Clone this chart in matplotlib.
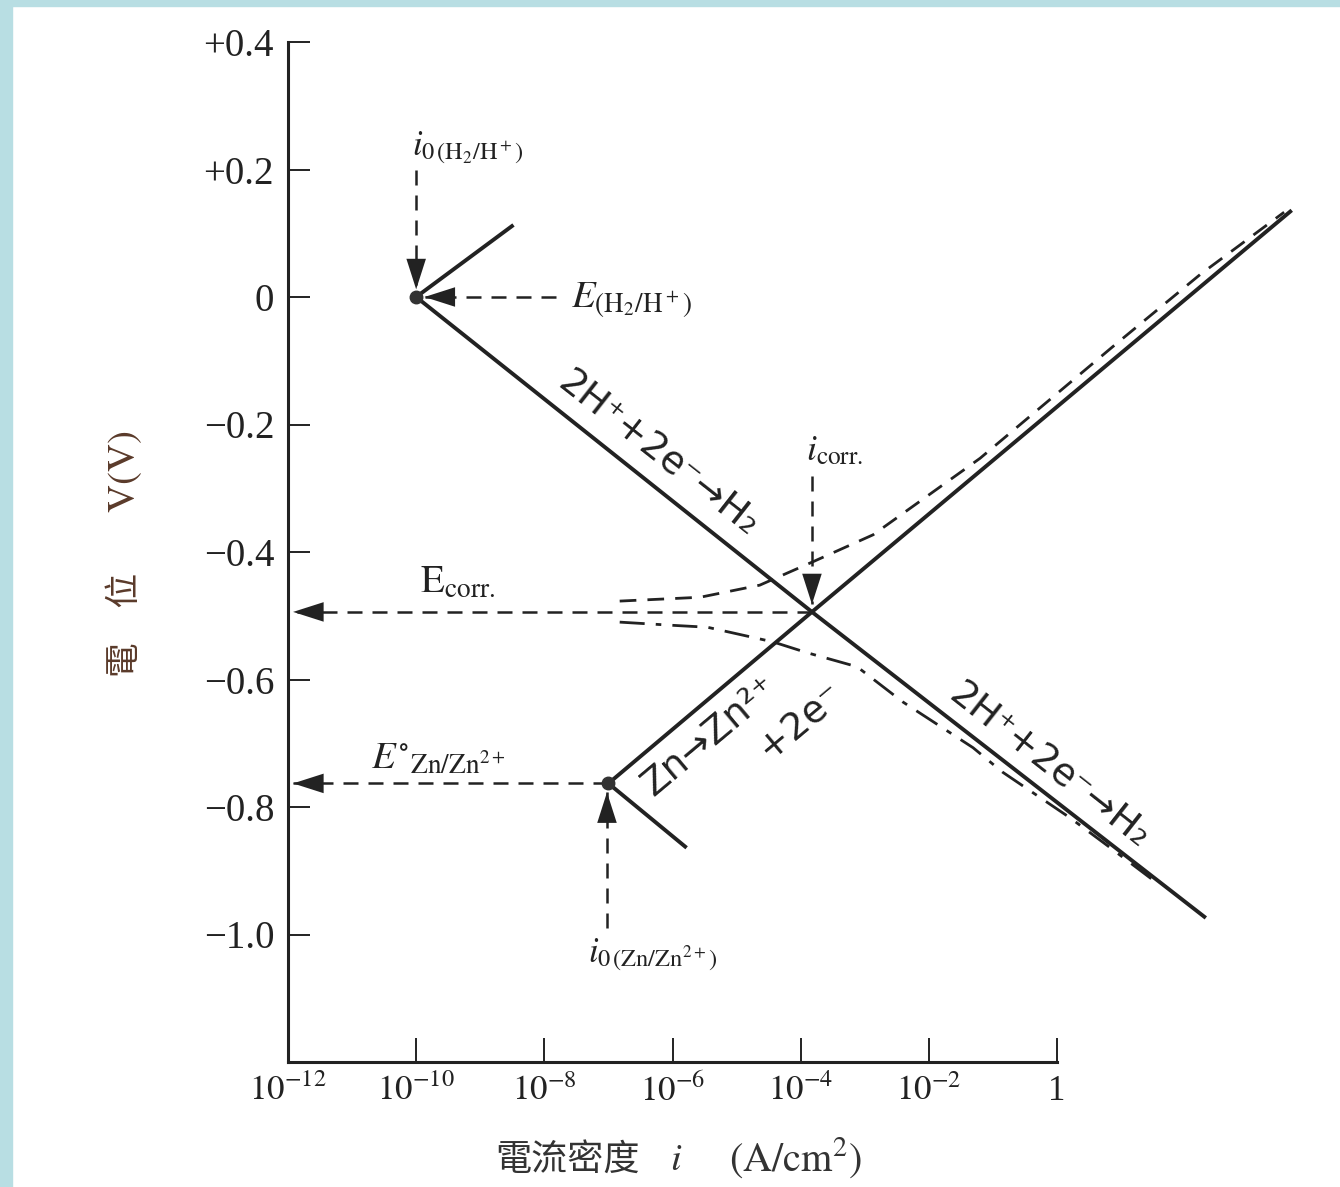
import math
import matplotlib
matplotlib.use("Agg")
import matplotlib.pyplot as plt
from matplotlib.patches import Rectangle

plt.rcParams['mathtext.fontset'] = 'stix'
plt.rcParams['font.family'] = ['Liberation Serif', 'DejaVu Serif']

INK = '#222222'

# ---- axis ticks ----
x_ticks = [1e-12, 1e-10, 1e-8, 1e-6, 1e-4, 1e-2, 1.0]
x_tick_labels = [r"$10^{-12}$", r"$10^{-10}$", r"$10^{-8}$", r"$10^{-6}$",
                 r"$10^{-4}$", r"$10^{-2}$", "1"]
y_ticks = [0.4, 0.2, 0.0, -0.2, -0.4, -0.6, -0.8, -1.0]
y_tick_labels = ["+0.4", "+0.2", "0", "\u22120.2", "\u22120.4", "\u22120.6",
                 "\u22120.8", "\u22121.0"]

# ---- exchange and corrosion points ----
i0_h2, E_h2 = 1e-10, 0.0
i0_zn, E_zn = 1e-7, -0.763
i_corr, E_corr = 1.5e-4, -0.494

# ---- Tafel lines (current density A/cm2, potential V) ----
h2_cath_i = [1e-10, 1.5e-4, 2.1e2]
h2_cath_E = [0.0, -0.494, -0.974]
h2_anod_i = [1e-10, 3.3e-9]
h2_anod_E = [0.0, 0.113]
zn_anod_i = [1e-7, 1.5e-4, 4.6e3]
zn_anod_E = [-0.763, -0.494, 0.136]
zn_cath_i = [1e-7, 1.66e-6]
zn_cath_E = [-0.763, -0.864]

# ---- measured polarization curves ----
pol_anod_i = [1.5e-7, 2.7e-6, 2.3e-5, 1.5e-4, 1.35e-3, 6.3e-2, 7.4, 170, 3.5e3]
pol_anod_E = [-0.477, -0.471, -0.452, -0.416, -0.373, -0.253, -0.078, 0.035, 0.133]
pol_cath_i = [1.5e-7, 1.0e-6, 3.5e-6, 3.7e-5, 1.26e-4, 7.6e-4, 3.9e-3, 4.9e-2,
              0.14, 1.6, 6.6, 36]
pol_cath_E = [-0.510, -0.515, -0.518, -0.541, -0.558, -0.580, -0.635, -0.707,
              -0.745, -0.817, -0.863, -0.919]

W, H = 1340, 1187
fig = plt.figure(figsize=(W / 100, H / 100), dpi=100)
fig.patch.set_facecolor('white')

# light blue frame strips
fig.patches.append(Rectangle((0, 0), 12 / W, 1, transform=fig.transFigure,
                             color='#b8dee3', zorder=0))
fig.patches.append(Rectangle((0, 1 - 6 / H), 1, 6 / H, transform=fig.transFigure,
                             color='#b8dee3', zorder=0))

L, R, B, T = 288, 1057, 1062, 42
ax = fig.add_axes([L / W, 1 - B / H, (R - L) / W, (B - T) / H])
ax.set_xscale('log')
ax.set_xlim(1e-12, 1.0)
ax.set_ylim(-1.2, 0.4)
ax.set_facecolor('none')
for s in ('top', 'right'):
    ax.spines[s].set_visible(False)
for s in ('left', 'bottom'):
    ax.spines[s].set_linewidth(2.2)
    ax.spines[s].set_color(INK)

ax.set_xticks(x_ticks)
ax.set_xticklabels(x_tick_labels)
ax.xaxis.set_minor_locator(matplotlib.ticker.NullLocator())
ax.set_yticks(y_ticks)
ax.set_yticklabels(y_tick_labels)
ax.tick_params(axis='x', direction='in', length=17, width=1.4, pad=9,
               labelsize=25, colors=INK)
ax.tick_params(axis='y', direction='in', length=16, width=1.4, pad=10,
               labelsize=28, colors=INK)

lw_solid = 2.8
lw_dash = 2.0
dash = (0, (6, 4))

def line(xs, ys, **kw):
    ax.plot(xs, ys, clip_on=False, solid_capstyle='butt', **kw)

# Tafel lines
line(h2_cath_i, h2_cath_E, color=INK, lw=lw_solid)
line(h2_anod_i, h2_anod_E, color=INK, lw=lw_solid)
line(zn_anod_i, zn_anod_E, color=INK, lw=lw_solid)
line(zn_cath_i, zn_cath_E, color=INK, lw=lw_solid)

# polarization curves
line(pol_anod_i, pol_anod_E, color=INK, lw=lw_dash, linestyle=dash)
line(pol_cath_i, pol_cath_E, color=INK, lw=lw_dash, linestyle=(0, (9, 4, 2, 4)))

# exchange points
ax.plot([i0_h2, i0_zn], [E_h2, E_zn], 'o', color='#333333', ms=9, zorder=5,
        clip_on=False)


def dashed_arrow(p0, p1, head_from):
    ax.plot([p0[0], p1[0]], [p0[1], p1[1]], color=INK, lw=1.8,
            linestyle=(0, (6, 4)), clip_on=False)
    ax.annotate('', xy=p1, xytext=head_from,
                arrowprops=dict(arrowstyle='-|>,head_length=1.0,head_width=0.32',
                                color=INK, lw=0, shrinkA=0, shrinkB=0,
                                mutation_scale=22),
                annotation_clip=False)


# i0 (H2/H+)
dashed_arrow((i0_h2, 0.20), (i0_h2, 0.012), (i0_h2, 0.06))
ax.text(8.5e-11, 0.234, r"$i_{0\,(\mathrm{H_2/H^+})}$", fontsize=25,
        ha='left', va='center', color=INK)
# E (H2/H+)
dashed_arrow((1.5e-8, E_h2), (1.35e-10, E_h2), (4e-10, E_h2))
ax.text(2.6e-8, -0.005, r"$E_{(\mathrm{H_2/H^+})}$", fontsize=28,
        ha='left', va='center', color=INK)
# i corr
dashed_arrow((i_corr, -0.28), (i_corr, E_corr + 0.012), (i_corr, E_corr + 0.07))
ax.text(1.2e-4, -0.243, r"$i_{\mathrm{corr.}}$", fontsize=26,
        ha='left', va='center', color=INK)
# E corr
dashed_arrow((i_corr, E_corr), (1.2e-12, E_corr), (3.2e-12, E_corr))
ax.text(1.15e-10, -0.449, r"$\mathrm{E}_{\mathrm{corr.}}$", fontsize=28,
        ha='left', va='center', color=INK)
# E Zn/Zn2+
dashed_arrow((i0_zn, E_zn), (1.2e-12, E_zn), (3.2e-12, E_zn))
ax.text(2.0e-11, -0.726, r"$E^{\circ}{}_{\mathrm{Zn/Zn^{2+}}}$", fontsize=28,
        ha='left', va='center', color=INK)
# i0 (Zn/Zn2+)
dashed_arrow((i0_zn * 0.95, -0.99), (i0_zn * 0.95, E_zn - 0.014),
             (i0_zn * 0.95, E_zn - 0.07))
ax.text(4.8e-8, -1.032, r"$i_{0\,(\mathrm{Zn/Zn^{2+}})}$", fontsize=25,
        ha='left', va='center', color=INK)


def screen_angle(xs, ys):
    a = ax.transData.transform((xs[0], ys[0]))
    b = ax.transData.transform((xs[-1], ys[-1]))
    return math.degrees(math.atan2(b[1] - a[1], b[0] - a[0]))


ang_h = screen_angle(h2_cath_i, h2_cath_E)
ang_zn = screen_angle(zn_anod_i, zn_anod_E)
rx = dict(family=['DejaVu Sans'], fontsize=27, color=INK,
          ha='center', va='center', rotation_mode='anchor')

ax.text(6.0e-7, -0.247, "2H\u207a+2e\u207b\u2192H\u2082", rotation=ang_h, **rx)
ax.text(0.75, -0.737, "2H\u207a+2e\u207b\u2192H\u2082", rotation=ang_h, **rx)
ax.text(3.8e-6, -0.690, "Zn\u2192Zn\u00b2\u207a", rotation=ang_zn, **rx)
ax.text(1.0e-4, -0.665, "+2e\u207b", rotation=ang_zn, **rx)

# axis titles
cjk = ['Noto Sans CJK TC', 'DejaVu Sans']
fig.text(568 / W, 1 - 1160 / H, "電流密度", family=cjk, fontsize=26,
         ha='center', va='center', color='#333333')
fig.text(676 / W, 1 - 1160 / H, r"$i$", fontsize=28, ha='center', va='center',
         color='#333333')
fig.text(795 / W, 1 - 1158 / H, r"$(\mathrm{A/cm^2})$", fontsize=29,
         ha='center', va='center', color='#333333')

fig.text(125 / W, 1 - 625 / H, "電　位", family=cjk, fontsize=25, rotation=90,
         ha='center', va='center', color='#5a3a2a')
fig.text(125 / W, 1 - 472 / H, r"$\mathrm{V(V)}$", fontsize=28, rotation=90,
         ha='center', va='center', color='#5a3a2a')

fig.savefig('out.png', dpi=100, facecolor='white')
